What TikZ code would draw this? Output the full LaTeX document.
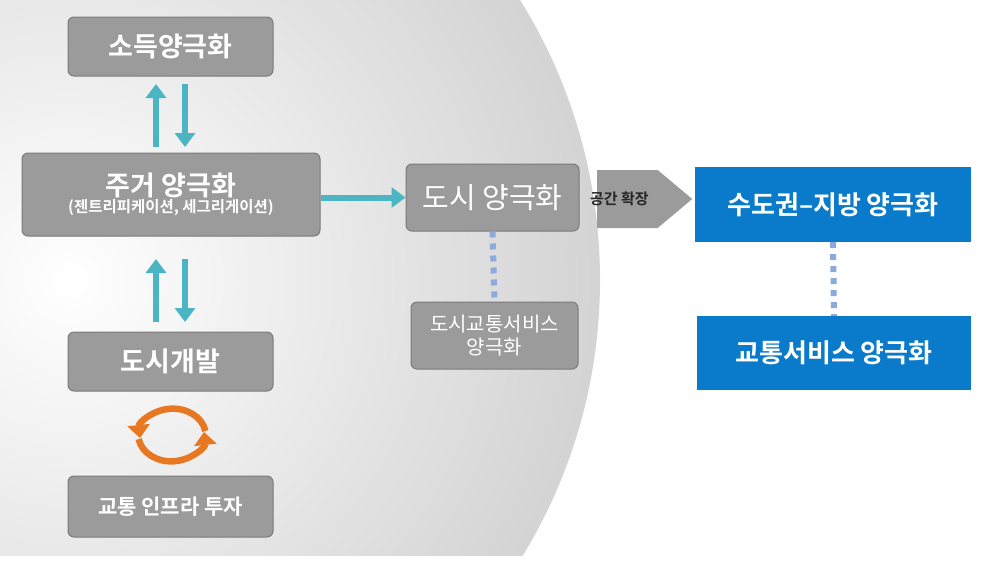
\documentclass[tikz,border=0pt]{standalone}
\usepackage{fontspec}
\setmainfont{Noto Sans CJK KR}[BoldFont={Noto Sans CJK KR Bold}]
\usetikzlibrary{arrows.meta,shapes.arrows}
\definecolor{boxg}{HTML}{9B9B9B}
\definecolor{boxb}{HTML}{7A7A7A}
\definecolor{teal}{HTML}{4BB5C4}
\definecolor{blu}{HTML}{0A7ACB}
\definecolor{dotc}{HTML}{8EA9DB}
\definecolor{org}{HTML}{E87722}
\begin{document}
\begin{tikzpicture}[x=1pt,y=-1pt,
  gbox/.style={draw=boxb,line width=1pt,fill=boxg,rounded corners=6pt,text=white,align=center,inner sep=0pt},
  bbox/.style={fill=blu,text=white,align=center,inner sep=0pt,font=\bfseries\fontsize{26}{30}\selectfont},
  tarr/.style={draw=teal,line width=6pt,-{Triangle[length=14pt,width=20pt]}},
  dots/.style={draw=dotc,line width=6pt,dash pattern=on 6pt off 6pt},
  oarr/.style={draw=org,line width=6.5pt,{Triangle[length=13pt,width=22pt]}-}]
\useasboundingbox (0,0) rectangle (1006,563);
\begin{scope}
\clip (0,0) rectangle (1006,555);
\shade[inner color=white,outer color=black!17] (70,280) circle (530);
\end{scope}
\node[gbox,minimum width=205pt,minimum height=59pt,font=\bfseries\fontsize{27}{30}\selectfont] (inc) at (170.5,46.5) {소득양극화};
\node[gbox,minimum width=298pt,minimum height=83pt] (hou) at (171,194.5) {{\bfseries\fontsize{27}{30}\selectfont 주거 양극화}\\[0pt]{\bfseries\fontsize{15.5}{18}\selectfont (젠트리피케이션, 세그리게이션)}};
\node[gbox,minimum width=205pt,minimum height=59pt,font=\bfseries\fontsize{27}{30}\selectfont] (dev) at (170.5,361.5) {도시개발};
\node[gbox,minimum width=205pt,minimum height=61pt,font=\bfseries\fontsize{21}{24}\selectfont] (inv) at (170.5,506.5) {교통 인프라 투자};
\node[gbox,minimum width=173pt,minimum height=67pt,font=\fontsize{29}{32}\selectfont] (city) at (492.5,197.5) {도시 양극화};
\node[gbox,minimum width=167pt,minimum height=67pt,font=\fontsize{20}{23}\selectfont] (cts) at (494.5,335.5) {도시교통서비스\\양극화};
\node[single arrow,fill=boxg,minimum height=95pt,minimum width=58pt,single arrow head extend=0pt,single arrow tip angle=80,inner sep=0pt,anchor=west,text=black!85,font=\bfseries\fontsize{15}{18}\selectfont] (exp) at (597,199) {\hspace*{-16pt}공간 확장};
\node[bbox,minimum width=276pt,minimum height=75pt] (reg) at (833,204.5) {수도권–지방 양극화};
\node[bbox,minimum width=274pt,minimum height=74pt] (tsv) at (834,353) {교통서비스 양극화};
\coordinate (u1a) at (156,147); \coordinate (u1b) at (156,84);
\coordinate (d1a) at (185,84); \coordinate (d1b) at (185,147);
\coordinate (u2a) at (156,322); \coordinate (u2b) at (156,259);
\coordinate (d2a) at (185,259); \coordinate (d2b) at (185,322);
\draw[tarr] (u1a) -- (u1b);
\draw[tarr] (d1a) -- (d1b);
\draw[tarr] (u2a) -- (u2b);
\draw[tarr] (d2a) -- (d2b);
\draw[tarr] (hou.east |- city) -- (city.west);
\draw[dots] (city.south) -- (cts.north);
\draw[dots] (reg.south) -- (tsv.north);
\draw[oarr] (204,432) arc[x radius=33,y radius=27,start angle=-5,end angle=170];
\draw[oarr] (140,438) arc[x radius=33,y radius=27,start angle=175,end angle=350];
\end{tikzpicture}
\end{document}
